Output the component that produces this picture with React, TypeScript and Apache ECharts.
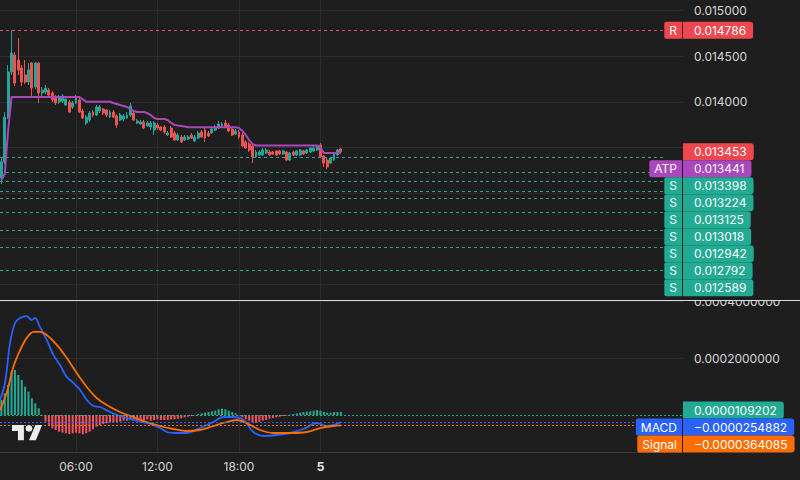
import React, { useEffect, useRef } from 'react';
import * as echarts from 'echarts';

// ---------- data ----------
const firstBarHour = 0.5; // 00:30 (hours from 00:00 of day 4)
const barStepHours = 0.25; // 15 min bars

const opens = [
  0.013165, 0.013341, 0.013834, 0.014328, 0.014514, 0.014459, 0.014372, 0.014295, 0.014218, 0.014426,
  0.014163, 0.014426, 0.014098, 0.014108, 0.014130, 0.014098, 0.014054, 0.013999, 0.014010, 0.013966,
  0.013999, 0.013944, 0.013988, 0.014021, 0.013900, 0.013769, 0.013802, 0.013889, 0.013856, 0.013900,
  0.013922, 0.013911, 0.013834, 0.013889, 0.013845, 0.013802, 0.013812, 0.013823, 0.013856, 0.013878,
  0.013769, 0.013758, 0.013780, 0.013736, 0.013725, 0.013692, 0.013747, 0.013725, 0.013725, 0.013637,
  0.013714, 0.013659, 0.013582, 0.013615, 0.013582, 0.013593, 0.013637, 0.013571, 0.013604, 0.013670,
  0.013692, 0.013659, 0.013659, 0.013692, 0.013714, 0.013736, 0.013769, 0.013747, 0.013703, 0.013648,
  0.013670, 0.013637, 0.013560, 0.013538, 0.013516, 0.013396, 0.013418, 0.013418, 0.013440, 0.013451,
  0.013451, 0.013462, 0.013462, 0.013429, 0.013451, 0.013363, 0.013451, 0.013418, 0.013418, 0.013462,
  0.013440, 0.013451, 0.013462, 0.013473, 0.013527, 0.013407, 0.013363, 0.013330, 0.013363, 0.013418,
  0.013484,
];
const closes = [
  0.013341, 0.013834, 0.014328, 0.014536, 0.014207, 0.014350, 0.014218, 0.014218, 0.014350, 0.014152,
  0.014426, 0.014098, 0.014130, 0.014152, 0.014076, 0.014021, 0.013988, 0.014054, 0.014065, 0.014032,
  0.013889, 0.013988, 0.014043, 0.013889, 0.013823, 0.013834, 0.013878, 0.013856, 0.013944, 0.013944,
  0.013878, 0.013856, 0.013889, 0.013834, 0.013747, 0.013856, 0.013845, 0.013856, 0.013955, 0.013802,
  0.013791, 0.013780, 0.013714, 0.013769, 0.013769, 0.013769, 0.013714, 0.013692, 0.013670, 0.013659,
  0.013615, 0.013582, 0.013637, 0.013560, 0.013615, 0.013615, 0.013604, 0.013615, 0.013659, 0.013615,
  0.013604, 0.013626, 0.013703, 0.013725, 0.013758, 0.013758, 0.013725, 0.013681, 0.013637, 0.013681,
  0.013615, 0.013516, 0.013494, 0.013473, 0.013396, 0.013451, 0.013451, 0.013473, 0.013473, 0.013418,
  0.013429, 0.013418, 0.013429, 0.013462, 0.013363, 0.013440, 0.013418, 0.013462, 0.013473, 0.013429,
  0.013473, 0.013494, 0.013494, 0.013505, 0.013396, 0.013330, 0.013286, 0.013385, 0.013440, 0.013473,
  0.013453,
];
const lows = [
  0.013100, 0.013319, 0.013812, 0.014295, 0.014174, 0.014295, 0.014174, 0.014196, 0.014185, 0.014043,
  0.014141, 0.013988, 0.014054, 0.014087, 0.014054, 0.013999, 0.013966, 0.013977, 0.013988, 0.013955,
  0.013878, 0.013922, 0.013977, 0.013878, 0.013812, 0.013747, 0.013780, 0.013834, 0.013845, 0.013878,
  0.013856, 0.013834, 0.013823, 0.013823, 0.013714, 0.013791, 0.013791, 0.013812, 0.013834, 0.013791,
  0.013758, 0.013747, 0.013703, 0.013725, 0.013692, 0.013637, 0.013692, 0.013681, 0.013648, 0.013626,
  0.013604, 0.013571, 0.013571, 0.013549, 0.013571, 0.013582, 0.013593, 0.013560, 0.013593, 0.013604,
  0.013560, 0.013615, 0.013648, 0.013681, 0.013703, 0.013725, 0.013714, 0.013670, 0.013626, 0.013637,
  0.013593, 0.013505, 0.013484, 0.013451, 0.013330, 0.013385, 0.013407, 0.013407, 0.013429, 0.013407,
  0.013418, 0.013407, 0.013418, 0.013418, 0.013352, 0.013352, 0.013407, 0.013407, 0.013407, 0.013418,
  0.013429, 0.013440, 0.013451, 0.013462, 0.013385, 0.013286, 0.013264, 0.013319, 0.013352, 0.013407,
  0.013440,
];
const highs = [
  0.013396, 0.013889, 0.014405, 0.014786, 0.014547, 0.014701, 0.014405, 0.014459, 0.014426, 0.014437,
  0.014437, 0.014437, 0.014163, 0.014185, 0.014152, 0.014119, 0.014076, 0.014076, 0.014087, 0.014054,
  0.014021, 0.014010, 0.014076, 0.014043, 0.013922, 0.013856, 0.013900, 0.013911, 0.013966, 0.013966,
  0.013933, 0.013922, 0.013911, 0.013911, 0.013867, 0.013878, 0.013867, 0.013889, 0.013988, 0.013900,
  0.013812, 0.013802, 0.013802, 0.013791, 0.013791, 0.013791, 0.013769, 0.013736, 0.013747, 0.013681,
  0.013736, 0.013681, 0.013659, 0.013637, 0.013637, 0.013637, 0.013659, 0.013637, 0.013681, 0.013692,
  0.013714, 0.013681, 0.013725, 0.013747, 0.013791, 0.013780, 0.013802, 0.013769, 0.013725, 0.013703,
  0.013692, 0.013659, 0.013582, 0.013560, 0.013527, 0.013473, 0.013473, 0.013494, 0.013494, 0.013473,
  0.013462, 0.013473, 0.013473, 0.013473, 0.013462, 0.013451, 0.013462, 0.013473, 0.013484, 0.013473,
  0.013484, 0.013505, 0.013516, 0.013516, 0.013549, 0.013418, 0.013385, 0.013396, 0.013451, 0.013484,
  0.013494,
];
const atpValues = [
  0.013144, 0.013209, 0.013692,
  0.014054, 0.014054, 0.014054, 0.014054, 0.014054, 0.014054, 0.014054, 0.014054, 0.014054, 0.014054,
  0.014054, 0.014054, 0.014054, 0.014054, 0.014054, 0.014054, 0.014054, 0.014054, 0.014054, 0.014054,
  0.014054,
  0.014027,
  0.014002, 0.014002, 0.014002, 0.014002, 0.014002, 0.014002, 0.014002, 0.014002,
  0.013988, 0.013977, 0.013966, 0.013955, 0.013944, 0.013922, 0.013900,
  0.013889, 0.013889, 0.013889,
  0.013878, 0.013856, 0.013823,
  0.013812, 0.013812, 0.013812,
  0.013802, 0.013769, 0.013747, 0.013741, 0.013736, 0.013730,
  0.013721, 0.013721, 0.013721, 0.013721, 0.013721, 0.013721, 0.013721, 0.013721, 0.013721, 0.013721,
  0.013721, 0.013721, 0.013721, 0.013721, 0.013721,
  0.013714, 0.013681, 0.013637, 0.013582, 0.013538,
  0.013522, 0.013522, 0.013522, 0.013522, 0.013522, 0.013522, 0.013522, 0.013522, 0.013522, 0.013522,
  0.013522, 0.013522, 0.013522, 0.013522, 0.013522, 0.013522, 0.013522, 0.013522, 0.013522,
  0.013505,
  0.013441, 0.013441, 0.013441, 0.013441, 0.013441, 0.013441,
];
const histValues = [
  0.0000529, 0.0000765, 0.0001058, 0.0001527, 0.0001587, 0.0001411, 0.0001234, 0.0000998, 0.0000822, 0.0000588,
  0.0000411, 0.0000235, -0.000002, -0.0000235, -0.0000353, -0.000047, -0.000053, -0.000059, -0.000062, -0.0000647,
  -0.000067, -0.0000647, -0.000062, -0.0000647, -0.000068, -0.0000647, -0.000059, -0.0000505, -0.0000411, -0.0000353,
  -0.0000317, -0.0000294, -0.000027, -0.000027, -0.0000247, -0.0000235, -0.00002, -0.00002, -0.0000176, -0.0000176,
  -0.00002, -0.0000176, -0.0000176, -0.0000153, -0.00002, -0.0000176, -0.0000153, -0.0000176, -0.0000176, -0.0000176,
  -0.0000153, -0.0000153, -0.000013, -0.0000118, -0.0000082, -0.0000059, -0.0000035, -0.0000012, 0.0000035, 0.0000059,
  0.0000082, 0.0000106, 0.000013, 0.0000153, 0.00002, 0.0000223, 0.00002, 0.0000153, 0.0000106, 0.0000059,
  -0.0000012, -0.0000082, -0.0000153, -0.00002, -0.0000247, -0.000027, -0.0000247, -0.00002, -0.0000176, -0.000013,
  -0.0000106, -0.0000082, -0.0000059, -0.0000035, -0.0000024, 0.0000012, 0.0000035, 0.0000059, 0.0000082, 0.0000106,
  0.0000118, 0.000013, 0.0000153, 0.0000176, 0.0000153, 0.0000106, 0.0000082, 0.0000082, 0.0000106, 0.0000106,
  0.0000109202,
];
const macdTimes = [
  0.40, 0.77, 1.14, 1.51, 1.88, 2.37, 2.74, 2.98, 3.35, 3.84,
  4.33, 4.82, 5.32, 5.80, 6.30, 6.79, 7.28, 7.77, 8.50, 9.24,
  10.22, 11.21, 12.19, 12.68, 13.42, 14.15, 15.13, 16.11, 16.85, 17.59,
  18.32, 19.06, 19.79, 20.78, 21.76, 22.74, 23.73, 24.46, 25.20, 25.5,
];
const macdValues = [
  0.0000529, 0.0001129, 0.000254, 0.0003245, 0.000342, 0.000349, 0.000335, 0.000342, 0.00031, 0.000265,
  0.000212, 0.000176, 0.000134, 0.000113, 0.0000882, 0.0000529, 0.0000317, 0.0000282, 0.0000106, -0.0000035,
  -0.0000176, -0.0000282, -0.0000459, -0.00006, -0.0000635, -0.0000635, -0.0000459, -0.0000247, -0.000007, -0.000007,
  -0.0000176, -0.00006, -0.000074, -0.0000705, -0.0000635, -0.0000494, -0.0000282, -0.0000388, -0.0000317, -0.0000254882,
];
const signalTimes = [
  0.40, 0.89, 1.38, 1.88, 2.37, 2.86, 3.35, 3.84, 4.58, 5.32,
  6.05, 6.79, 7.52, 8.26, 9.24, 10.22, 11.21, 12.19, 13.17, 14.15,
  15.13, 16.11, 17.10, 17.83, 18.57, 19.55, 20.53, 21.76, 22.99, 23.97,
  24.95, 25.5,
];
const signalValues = [
  0.0000176, 0.0000776, 0.000169, 0.000229, 0.000272, 0.000293, 0.000293, 0.000282, 0.000247, 0.000201,
  0.000148, 0.0000988, 0.00006, 0.0000353, 0.0000106, -0.000007, -0.0000247, -0.0000388, -0.0000494, -0.0000564,
  -0.0000529, -0.0000388, -0.0000247, -0.0000176, -0.0000282, -0.0000529, -0.0000635, -0.0000635, -0.00006, -0.0000459,
  -0.0000388, -0.0000364085,
];

const resistanceLevels = [0.014786];
const supportLevels = [0.013398, 0.013224, 0.013125, 0.013018, 0.012942, 0.012792, 0.012589, 0.012409, 0.012157];
const lastPrice = 0.013453;
const atpLast = 0.013441;
const histLast = 0.0000109202;
const macdLast = -0.0000254882;
const signalLast = -0.0000364085;

const priceGridValues = [0.012, 0.0125, 0.013, 0.0135, 0.014, 0.0145, 0.015];
const priceTickLabels = [0.014, 0.0145, 0.015]; // lower ones are covered by the level tags
const macdTicks = [0.0002, 0.0004];
const timeTicks = [6, 12, 18, 24];

// ---------- style ----------
const BG = '#1e1e1e';
const GRID = '#2c2c2c';
const TEXT = '#d6d6d6';
const UP = '#26a69a';
const DOWN = '#ef5350';
const TEAL = '#22ab94';
const HIST_DOWN = '#f7525f';
const RED = '#f0474f';
const PURPLE = '#ab47bc';
const BLUE = '#2962ff';
const ORANGE = '#ff6d00';
const FONT_FAMILY = 'Inter, "Noto Sans", sans-serif';
const FONT = '12px ' + FONT_FAMILY;

const X_MIN = 0.4;
const X_MAX = 50.7;
const MAIN_TOP = 0;
const MAIN_H = 300;
const SUB_TOP = 301;
const SUB_H = 151;
const PLOT_W = 683;
const AXIS_X = 683;
const BOX_H = 17;
const S_LINE_END = 49.22; // hour at which level lines stop (before tags)
const M_LINE_END = 47.24;

echarts.graphic.registerShape(
  'tvlogo',
  echarts.graphic.extendPath('M14 22H7V11H0V4h14v18zM28 22h-8l7.5-18h8L28 22z', {})
);

function buildOption() {
  const times = opens.map((_, i) => firstBarHour + i * barStepHours);
  const candleData = times.map((t, i) => [t, opens[i], closes[i], lows[i], highs[i]]);
  const atpData = times.map((t, i) => [t, atpValues[i]]);
  const histData = times.map((t, i) => ({
    value: [t, histValues[i]],
    itemStyle: { color: histValues[i] >= 0 ? TEAL : HIST_DOWN },
  }));

  const levelLine = (v: number, color: string, end: number, dash: number[]) => [
    { coord: [X_MIN, v], lineStyle: { color, type: dash, width: 1 } },
    { coord: [end, v] },
  ];

  const timeFmt = (v: number) => {
    if (v % 24 === 0) return '{d|' + String(4 + v / 24) + '}';
    const h = v % 24;
    return (h < 10 ? '0' : '') + h + ':00';
  };

  return {
    animation: false,
    backgroundColor: BG,
    grid: [
      { left: 0, top: MAIN_TOP, width: PLOT_W, height: MAIN_H },
      { left: 0, top: SUB_TOP, width: PLOT_W, height: SUB_H },
    ],
    xAxis: [
      {
        type: 'value', gridIndex: 0, min: X_MIN, max: X_MAX,
        axisLine: { show: false }, axisTick: { show: false, customValues: timeTicks },
        axisLabel: { show: false, customValues: timeTicks },
        splitLine: { show: true, lineStyle: { color: GRID, width: 1 } },
      },
      {
        type: 'value', gridIndex: 1, min: X_MIN, max: X_MAX,
        axisLine: { show: true, onZero: false, lineStyle: { color: '#3a3a3a' } },
        axisTick: { show: false, customValues: timeTicks },
        axisLabel: {
          customValues: timeTicks, color: TEXT, fontFamily: FONT_FAMILY, fontSize: 12, margin: 8,
          formatter: timeFmt,
          rich: { d: { fontWeight: 'bold', fontSize: 12, fontFamily: FONT_FAMILY, color: '#e6e6e6' } },
        },
        splitLine: { show: true, lineStyle: { color: GRID, width: 1 } },
      },
    ],
    yAxis: [
      {
        type: 'value', gridIndex: 0, position: 'right', min: 0.0118279, max: 0.0151173,
        axisLine: { show: false }, axisTick: { show: false, customValues: priceGridValues },
        axisLabel: {
          customValues: priceTickLabels, color: TEXT, fontFamily: FONT_FAMILY, fontSize: 12, margin: 11,
          formatter: (v: number) => v.toFixed(6),
        },
        splitLine: { show: true, lineStyle: { color: GRID, width: 1 } },
      },
      {
        type: 'value', gridIndex: 1, position: 'right', min: -0.0001305, max: 0.000402,
        axisLine: { show: false }, axisTick: { show: false, customValues: macdTicks },
        axisLabel: {
          customValues: macdTicks, color: TEXT, fontFamily: FONT_FAMILY, fontSize: 12, margin: 11,
          formatter: (v: number) => v.toFixed(10),
        },
        splitLine: { show: true, lineStyle: { color: GRID, width: 1 } },
      },
    ],
    series: [
      {
        type: 'candlestick', xAxisIndex: 0, yAxisIndex: 0,
        data: candleData,
        encode: { x: 0, y: [1, 2, 3, 4] },
        barWidth: 2.4,
        itemStyle: { color: UP, color0: DOWN, borderColor: UP, borderColor0: DOWN, borderWidth: 1 },
        markLine: {
          silent: true, symbol: ['none', 'none'], label: { show: false }, animation: false,
          data: [
            ...resistanceLevels.map((v) => levelLine(v, '#e4505a', S_LINE_END, [3, 3])),
            ...supportLevels.map((v) => levelLine(v, TEAL, S_LINE_END, [3, 3])),
            { yAxis: lastPrice, lineStyle: { color: '#f04f6a', type: [2, 2], width: 1.5 } },
          ],
        },
        z: 3,
      },
      {
        type: 'line', xAxisIndex: 0, yAxisIndex: 0,
        data: atpData, showSymbol: false, symbol: 'none',
        lineStyle: { color: PURPLE, width: 2 }, z: 4,
      },
      {
        type: 'bar', xAxisIndex: 1, yAxisIndex: 1,
        data: histData, barWidth: 2,
        markLine: {
          silent: true, symbol: ['none', 'none'], label: { show: false },
          data: [{ yAxis: histLast, lineStyle: { color: TEAL, type: [2, 2], width: 1 } }],
        },
      },
      {
        type: 'line', xAxisIndex: 1, yAxisIndex: 1,
        data: macdTimes.map((t, i) => [t, macdValues[i]]),
        showSymbol: false, symbol: 'none', smooth: 0.3,
        lineStyle: { color: BLUE, width: 1.8 },
        markLine: {
          silent: true, symbol: ['none', 'none'], label: { show: false },
          data: [levelLine(macdLast, BLUE, M_LINE_END, [2, 2])],
        },
        z: 4,
      },
      {
        type: 'line', xAxisIndex: 1, yAxisIndex: 1,
        data: signalTimes.map((t, i) => [t, signalValues[i]]),
        showSymbol: false, symbol: 'none', smooth: 0.3,
        lineStyle: { color: ORANGE, width: 1.8 },
        markLine: {
          silent: true, symbol: ['none', 'none'], label: { show: false },
          data: [levelLine(signalLast, ORANGE, M_LINE_END, [2, 2])],
        },
        z: 4,
      },
    ],
  };
}

type Lbl = { v: number; text: string; color: string; tag?: string; tagColor?: string; y: number; yc: number };

function stack(items: Lbl[], bottom: number, shift: boolean): Lbl[] {
  const sorted = [...items].sort((a, b) => a.y - b.y);
  let prev = -Infinity;
  sorted.forEach((it) => {
    it.yc = Math.max(it.y, prev + BOX_H);
    prev = it.yc;
  });
  if (shift) {
    const last = sorted[sorted.length - 1];
    const over = last.yc + BOX_H / 2 - bottom;
    if (over > 0) sorted.forEach((it) => (it.yc -= over));
    return sorted;
  }
  return sorted.filter((it) => it.yc + BOX_H / 2 <= bottom + 0.5);
}

function buildOverlay(chart: any) {
  const py = (v: number, idx: number) => chart.convertToPixel({ yAxisIndex: idx }, v) as number;
  const mk = (v: number, idx: number, text: string, color: string, tag?: string, tagColor?: string): Lbl => ({
    v, text, color, tag, tagColor, y: py(v, idx), yc: 0,
  });
  const els: any[] = [];

  const main: Lbl[] = [
    ...resistanceLevels.map((v) => mk(v, 0, v.toFixed(6), RED, 'R', RED)),
    mk(lastPrice, 0, lastPrice.toFixed(6), RED),
    mk(atpLast, 0, atpLast.toFixed(6), PURPLE, 'ATP', PURPLE),
    ...supportLevels.map((v) => mk(v, 0, v.toFixed(6), TEAL, 'S', TEAL)),
  ];
  const mainStacked = stack(main, MAIN_TOP + MAIN_H - 3, false);

  const fmtM = (v: number) => v.toFixed(10).replace('-', '\u2212');
  const sub: Lbl[] = [
    mk(histLast, 1, fmtM(histLast), TEAL),
    mk(macdLast, 1, fmtM(macdLast), BLUE, 'MACD', BLUE),
    mk(signalLast, 1, fmtM(signalLast), ORANGE, 'Signal', ORANGE),
  ];
  const subStacked = stack(sub, SUB_TOP + SUB_H + 0.5, true);

  // mask the clipped part of the top MACD label area
  els.push({ type: 'rect', z: 40, shape: { x: AXIS_X, y: 292, width: 117, height: 8.5 }, style: { fill: BG } });

  [...mainStacked, ...subStacked].forEach((it) => {
    els.push({
      type: 'text', x: AXIS_X, y: it.yc, z: 50,
      style: {
        text: it.text, font: FONT, fill: '#ffffff', backgroundColor: it.color,
        padding: [2, 7, 2, 11], lineHeight: 13, align: 'left', verticalAlign: 'middle',
        borderRadius: [0, 3, 3, 0],
      },
    });
    if (it.tag) {
      els.push({
        type: 'text', x: AXIS_X - 1, y: it.yc, z: 50,
        style: {
          text: it.tag, font: FONT, fill: '#ffffff', backgroundColor: it.tagColor,
          padding: [2, 5, 2, 5], lineHeight: 13, align: 'right', verticalAlign: 'middle',
          borderRadius: [2, 0, 0, 2],
        },
      });
    }
  });

  // pane separator
  els.push({ type: 'line', z: 60, shape: { x1: 0, y1: 300.5, x2: 800, y2: 300.5 }, style: { stroke: '#dcdcdc', lineWidth: 1 } });

  // TradingView logo
  els.push({ type: 'tvlogo', x: 12, y: 421.6, scaleX: 0.85, scaleY: 0.85, z: 60, style: { fill: '#ececec' } });
  els.push({ type: 'circle', z: 60, shape: { cx: 12 + 20 * 0.85, cy: 421.6 + 8 * 0.85, r: 3.4 }, style: { fill: '#ececec' } });

  return els;
}

export default function App() {
  const ref = useRef<HTMLDivElement>(null);
  useEffect(() => {
    if (!ref.current) return;
    const chart = echarts.init(ref.current, null, { renderer: 'svg' });
    chart.setOption(buildOption() as any);
    chart.setOption({ graphic: buildOverlay(chart) } as any);
    return () => chart.dispose();
  }, []);
  return (
    <div
      ref={ref}
      style={{ position: 'absolute', left: 0, top: 0, width: 800, height: 480, background: BG }}
    />
  );
}
